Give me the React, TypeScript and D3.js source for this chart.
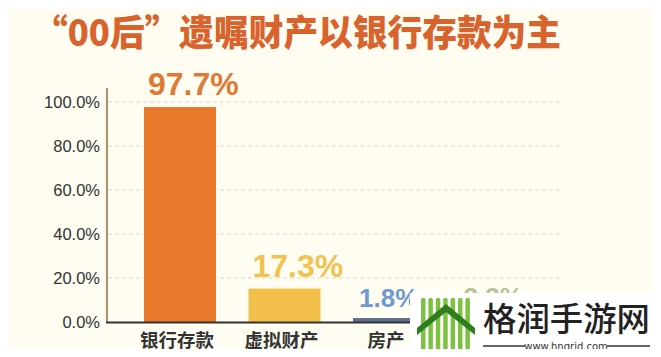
import React from "react";
import * as d3 from "d3";

const title = "“00后”遗嘱财产以银行存款为主";
const categories = ["银行存款", "虚拟财产", "房产", "其他"];
const categoryLabels = ["银行存款", "虚拟财产", "房产", ""];
const barValues = [97.7, 15.2, 1.8, 2.3];
const valueLabels = ["97.7%", "17.3%", "1.8%", "2.3%"];
const yTicks = [0, 20, 40, 60, 80, 100];

const barColors = ["#e8782a", "#f2c04a", "#5b6f93", "#9fb56f"];
const labelColors = ["#de7a35", "#f0c24e", "#6e9ad0", "#b6c49a"];

const W = 661;
const H = 357;

export default function App() {
  const x = d3.scaleBand<string>().domain(categories).range([107, 566.5]).paddingInner(0.311).paddingOuter(0.354);
  const y = d3.scaleLinear().domain([0, 100]).range([322, 102]);
  const sans = "'Noto Sans CJK SC', 'Noto Sans', sans-serif";
  const stripes = d3.range(7);
  return (
    <div style={{ margin: -8 }}>
      <svg width={W} height={H} style={{ display: "block" }}>
        <rect width={W} height={H} fill="#fffdf2" />
        <text x={33} y={46} fontFamily={sans} fontWeight={900} fontSize={36} fill="#d8632c" textLength={528} lengthAdjust="spacingAndGlyphs">
          {title}
        </text>
        {yTicks.filter((t) => t > 0).map((t) => (
          <line key={"g" + t} x1={108} x2={563} y1={y(t)} y2={y(t)} stroke="#d8d8d0" strokeWidth={1} strokeDasharray="4,3" />
        ))}
        {yTicks.map((t) => (
          <text key={"t" + t} x={100} y={y(t)} dy="0.35em" textAnchor="end" fontFamily="'Liberation Sans', Arial, sans-serif" fontSize={16.5} fill="#333">
            {d3.format(".1f")(t) + "%"}
          </text>
        ))}
        {categories.map((c, i) => (
          <rect key={c} x={x(c)} y={y(barValues[i])} width={x.bandwidth()} height={322 - y(barValues[i])} fill={barColors[i]} />
        ))}
        <line x1={107} x2={107} y1={88} y2={323} stroke="#9a6a3a" strokeWidth={1.5} />
        <line x1={106} x2={566} y1={322.5} y2={322.5} stroke="#333" strokeWidth={2} />
        {categories.map((c, i) => (
          <text key={"v" + c} x={(x(c) as number) + (i < 2 ? 4 : 6)} y={y(barValues[i]) - (i < 2 ? 12 : 11)} fontFamily="'Liberation Sans', Arial, sans-serif" fontWeight="bold" fontSize={i < 2 ? 32 : 26} fill={labelColors[i]}>
            {valueLabels[i]}
          </text>
        ))}
        {categories.map((c, i) =>
          categoryLabels[i] ? (
            <text key={"c" + c} x={(x(c) as number) + x.bandwidth() / 2 - 3} y={347} textAnchor="middle" fontFamily={sans} fontWeight={700} fontSize={18.5} fill="#333">
              {categoryLabels[i]}
            </text>
          ) : null
        )}
        {/* watermark overlay */}
        <rect x={410} y={293} width={251} height={64} fill="#ffffff" />
        <g>
          {stripes.map((s) => (
            <rect key={s} x={421 + s * 7.4} y={298} width={4.5} height={52} rx={1.5} fill="#7dc142" />
          ))}
          <path d="M417,335 L446,312 L475,335 L475,328 L446,304 L417,328 Z" fill="#2f7d1c" />
        </g>
        <text x={483} y={331} fontFamily={sans} fontWeight={500} fontSize={33} fill="#222" textLength={167} lengthAdjust="spacingAndGlyphs">
          格润手游网
        </text>
        <line x1={483} x2={525} y1={346} y2={346} stroke="#333" strokeWidth={1.5} />
        <line x1={607} x2={650} y1={346} y2={346} stroke="#333" strokeWidth={1.5} />
        <text x={566} y={349.5} textAnchor="middle" fontFamily="'DejaVu Sans', sans-serif" fontSize={10} fill="#333">
          www.hngrjd.com
        </text>
      </svg>
    </div>
  );
}
